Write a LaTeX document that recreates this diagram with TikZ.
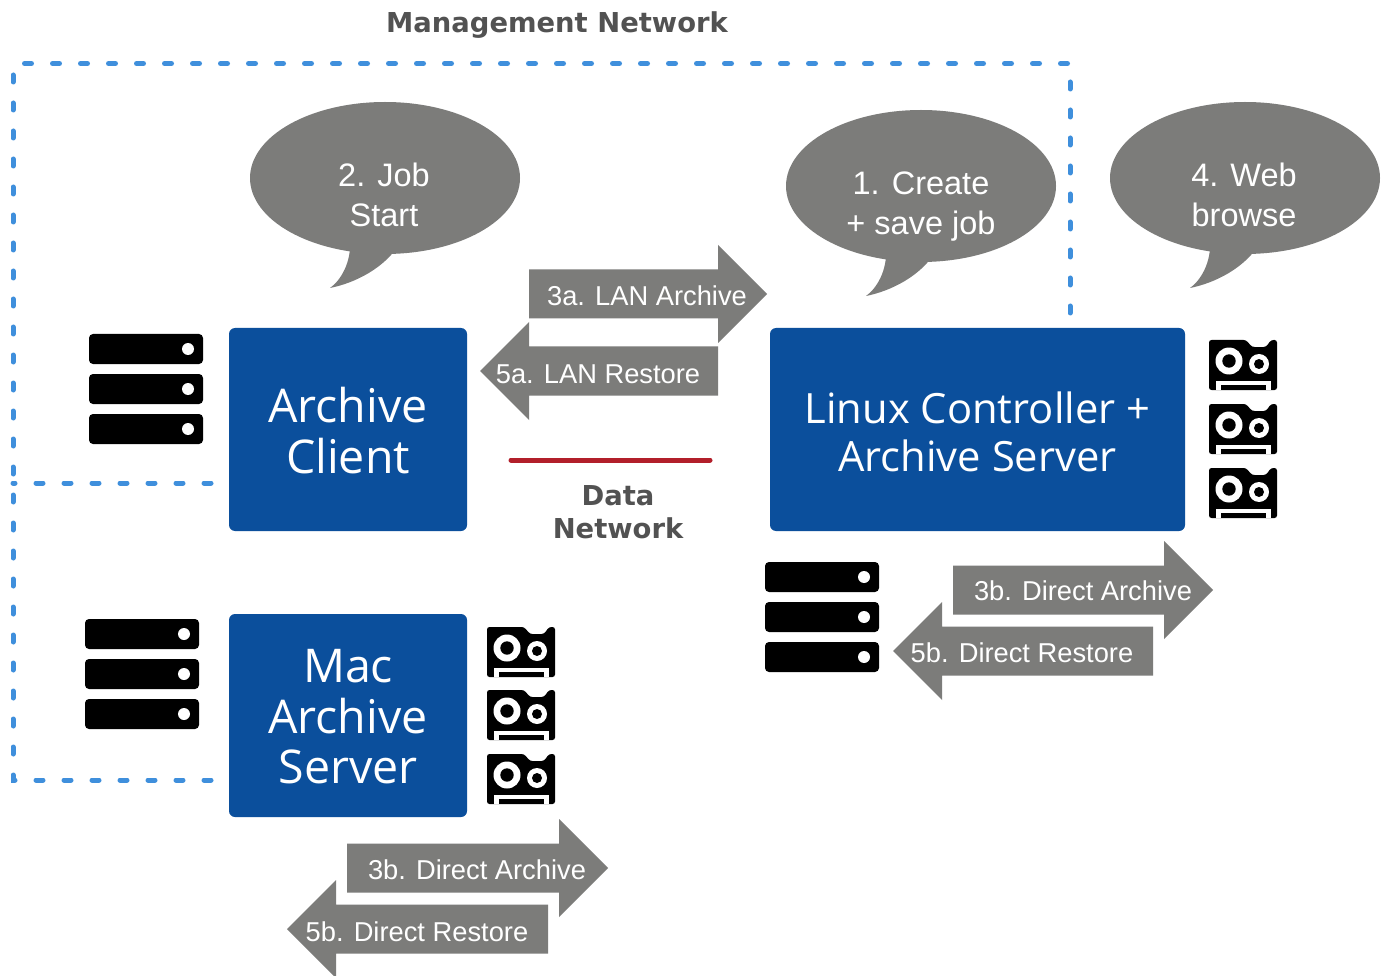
\documentclass[tikz,border=0pt]{standalone}
\usepackage{fontspec}
\setmainfont{Liberation Sans}
\newfontfamily\boxfont{Open Sans}
\newfontfamily\headfont{DejaVu Sans}
\usetikzlibrary{calc}
\definecolor{boxblue}{HTML}{0B4F9C}
\definecolor{bgray}{HTML}{7C7C7A}
\definecolor{dashblue}{HTML}{3F8FDC}
\definecolor{netred}{HTML}{B21F2A}
\tikzset{
  x=1pt,y=-1pt,
  bluebox/.style={fill=boxblue,rounded corners=6pt,inner sep=0pt,anchor=center},
  boxlabel/.style={text=white,inner sep=0pt,align=center,anchor=center},
  bigtext/.style={font=\boxfont\fontsize{46.5}{50.5}\selectfont},
  widetext/.style={font=\boxfont\fontsize{41.7}{48}\selectfont},
  graylabel/.style={text=white,font=\fontsize{27.3}{33}\selectfont,inner sep=0pt,anchor=center},
  bubbletext/.style={text=white,font=\fontsize{32.5}{40}\selectfont,inner sep=0pt,align=center,anchor=center},
  headtext/.style={text=black!68,font=\headfont\bfseries\fontsize{27.4}{33}\selectfont,inner sep=0pt,align=center,anchor=center},
  mgmt/.style={draw=dashblue,line width=5pt,line cap=round,dash pattern=on 7pt off 21pt},
  server/.pic={
    \foreach \yy in {0,40,80}{
      \fill[black,rounded corners=4pt] (0,\yy) rectangle (114,\yy+30);
      \fill[white] (99,\yy+15) circle (6);
    }
  },
  tape/.pic={
    \fill[black,rounded corners=2.5pt] (0,0) -- (37,0) -- (43,7) -- (57,7) -- (62,0) -- (68,0) -- (68,50) -- (0,50) -- cycle;
    \fill[white] (20,21) circle (13.5);
    \fill[black] (20,21) circle (6.7);
    \fill[white] (50,24) circle (10);
    \fill[black] (50,24) circle (5);
    \fill[white] (7,41) rectangle (62,50);
    \fill[black] (12,44.5) rectangle (57,50);
  },
  bubble/.pic={
    \fill[bgray] (0,0) ellipse [x radius=135,y radius=76];
    \fill[bgray] (-35,60) .. controls (-33,85) and (-45,103) .. (-55,110)
      .. controls (-30,105) and (0,90) .. (15,65) -- cycle;
  },
  rightarrow/.pic={
    \fill[bgray] (0,0) -- (0,-24.5) -- (\pgfkeysvalueof{/tikz/arrowlen},-24.5)
      -- (\pgfkeysvalueof{/tikz/arrowlen},-49) -- (\pgfkeysvalueof{/tikz/arrowlen}+49,0)
      -- (\pgfkeysvalueof{/tikz/arrowlen},49) -- (\pgfkeysvalueof{/tikz/arrowlen},24.5) -- (0,24.5) -- cycle;
  },
  leftarrow/.pic={
    \fill[bgray] (0,0) -- (49,-49) -- (49,-24.5) -- (\pgfkeysvalueof{/tikz/arrowlen}+49,-24.5)
      -- (\pgfkeysvalueof{/tikz/arrowlen}+49,24.5) -- (49,24.5) -- (49,49) -- cycle;
  },
  arrowlen/.initial=100,
}
\begin{document}
\begin{tikzpicture}
\useasboundingbox (0,0) rectangle (1387,976);
\fill[white] (0,0) rectangle (1387,976);

% management network
\node[headtext] (mgmtlabel) at (557,25) {Management Network};
\coordinate (tl) at (13,63.5);
\coordinate (tr) at (1070,63.5);
\coordinate (bl) at (13,780);
\coordinate (ml) at (13,483);
\coordinate (ctrltop) at (1070,328);
\coordinate (clientleft) at (229,483);
\coordinate (macleft) at (229,780);
\draw[mgmt] ($(macleft)+(-18,0)$) -- (bl) -- (tl);
\draw[mgmt] (ctrltop) ++(0,-15) -- (tr) -- (tl);
\draw[mgmt] ($(clientleft)+(-18,0)$) -- (ml);

% boxes
\node[bluebox,minimum width=238pt,minimum height=203pt] (client) at (348,429.5) {};
\node[boxlabel,bigtext] (clienttext) at (348,430.5) {Archive\\Client};
\node[bluebox,minimum width=238pt,minimum height=203pt] (mac) at (348,715.5) {};
\node[boxlabel,bigtext] (mactext) at (348,717) {Mac\\Archive\\Server};
\node[bluebox,minimum width=415pt,minimum height=203pt] (ctrl) at (977.5,429.5) {};
\node[boxlabel,widetext] (ctrltext) at (977.5,431.5) {Linux Controller +\\Archive Server};

% bubbles
\pic at (385,178) {bubble};
\pic at (921,186) {bubble};
\pic at (1245,178) {bubble};
\node[bubbletext] (b2) at (384,195) {2. Job\\Start};
\node[bubbletext] (b1) at (921,207) {1. Create\\+ save job};
\node[bubbletext] (b4) at (1244,195) {4. Web\\browse};

% arrows
\pic[arrowlen=189] at (529,294) {rightarrow};
\node[graylabel] (a3a) at (647,296) {3a. LAN Archive};
\pic[arrowlen=189] at (480,371) {leftarrow};
\node[graylabel] (a5a) at (598,374) {5a. LAN Restore};
\pic[arrowlen=211] at (953,590) {rightarrow};
\node[graylabel] (a3b) at (1083,591) {3b. Direct Archive};
\pic[arrowlen=211] at (893,651) {leftarrow};
\node[graylabel] (a5b) at (1022,653) {5b. Direct Restore};
\pic[arrowlen=212] at (347,868) {rightarrow};
\node[graylabel] (m3b) at (477,870) {3b. Direct Archive};
\pic[arrowlen=212] at (287,929) {leftarrow};
\node[graylabel] (m5b) at (417,932) {5b. Direct Restore};

% data network
\coordinate (dl) at (511,460);
\coordinate (dr) at (710,460);
\draw[netred,line width=5pt,line cap=round] (dl) -- (dr);
\node[headtext] (datalabel) at (618,512) {Data\\Network};

% servers
\pic at (89,334) {server};
\pic at (85,619) {server};
\pic at (765,562) {server};

% tapes
\pic at (1209,340) {tape};
\pic at (1209,404) {tape};
\pic at (1209,468) {tape};
\pic at (487,627) {tape};
\pic at (487,690) {tape};
\pic at (487,754) {tape};
\end{tikzpicture}
\end{document}
